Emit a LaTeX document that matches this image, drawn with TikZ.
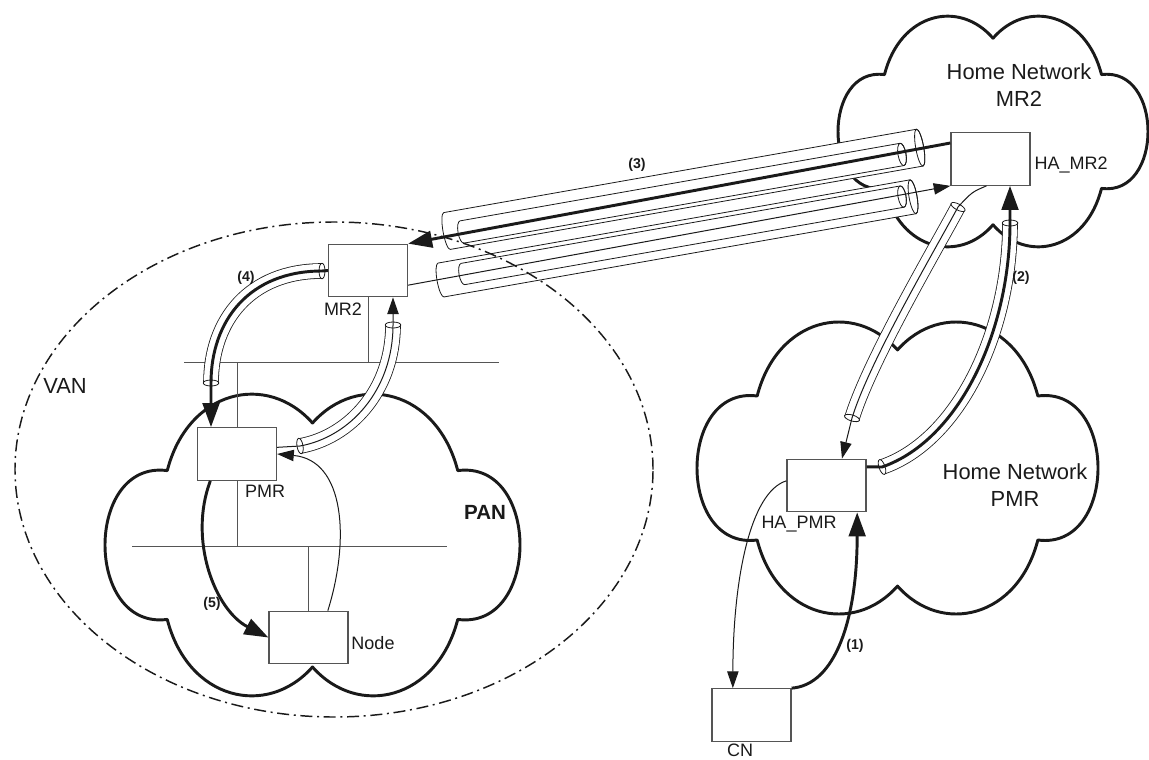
\documentclass[tikz,border=0pt]{standalone}
\usepackage{fontspec}
\setmainfont{Liberation Sans}
\usetikzlibrary{arrows.meta}
\definecolor{ink}{HTML}{1A1A1A}
\definecolor{wire}{HTML}{555555}

\begin{document}
\begin{tikzpicture}[
  x=0.75pt, y=0.75pt,
  every node/.append style={text=ink},
  box/.style={draw=wire, line width=0.9pt, fill=white, minimum width=59.3pt, minimum height=39.4pt, inner sep=0pt},
  lbl/.style={font=\fontsize{13.5}{16}\selectfont, inner sep=0pt},
  tag/.style={font=\fontsize{10.6}{12}\selectfont\bfseries, inner sep=0pt},
  net/.style={font=\fontsize{16.4}{19.7}\selectfont, align=center, inner sep=0pt},
  bus/.style={draw=wire, line width=0.75pt},
  flow/.style={draw=ink, line width=2.2pt, -{Triangle[length=18pt, width=12.5pt]}},
  sig/.style={draw=ink, line width=0.75pt, -{Triangle[length=12.5pt, width=8.5pt]}},
  cloudline/.style={draw=ink, line width=2.2pt, line join=round},
  tube/.style={draw=ink, line width=0.6pt, double=white, double distance=10.5pt},
  tubeend/.style={draw=ink, line width=0.6pt, fill=white},
  vanline/.style={draw=ink, line width=1.1pt, dash pattern=on 9pt off 3.5pt on 1.5pt off 3.5pt},
  pics/cloud/.style={code={
    \draw[cloudline] (0,0.787) .. controls (0.22,1.12) and (0.60,1.0) .. (0.70,0.48)
      .. controls (1.1,0.55) and (1.1,-0.55) .. (0.70,-0.48)
      .. controls (0.60,-1.0) and (0.22,-1.12) .. (0,-0.787)
      .. controls (-0.22,-1.12) and (-0.60,-1.0) .. (-0.70,-0.48)
      .. controls (-1.1,-0.55) and (-1.1,0.55) .. (-0.70,0.48)
      .. controls (-0.60,1.0) and (-0.22,1.12) .. (0,0.787) -- cycle;
  }},
  pics/tunnel/.style 2 args={code={
    \filldraw[draw=ink, line width=0.6pt, fill=white]
      (0,-#2) -- (#1,-#2) arc[start angle=-90, end angle=90, x radius=4, y radius=#2]
      -- (0,#2) arc[start angle=90, end angle=270, x radius=4, y radius=#2] -- cycle;
    \draw[draw=ink, line width=0.6pt] (#1,0) ellipse[x radius=4, y radius=#2];
  }},
]
\useasboundingbox (0,0) rectangle (1149,-760);

% networks
\pic[xscale=207.5, yscale=155] at (312.5,-545) {cloud};
\pic[xscale=200.5, yscale=150] at (897.5,-468) {cloud};
\pic[xscale=155, yscale=118.5] at (993,-131.5) {cloud};

% routers and hosts
\node[box] (mr2) at (368,-270.5) {};
\node[box] (hamr2) at (990.5,-159) {};
\node[box] (pmr) at (237,-454) {};
\node[box] (host) at (308.5,-637.5) {};
\node[box] (hapmr) at (826.5,-485.5) {};
\node[box] (cn) at (751.5,-715) {};

\node[lbl] (mr2l) at (343,-309) {MR2};
\node[lbl] (hamr2l) at (1071,-165) {HA\_MR2};
\node[lbl] (pmrl) at (265,-491) {PMR};
\node[lbl] (hostl) at (373,-643) {Node};
\node[lbl] (hapmrl) at (799,-524) {HA\_PMR};
\node[lbl] (cnl) at (740,-750) {CN};

\node[net] (hnmr2) at (1019,-85) {Home Network\\MR2};
\node[net] (hnpmr) at (1015,-485) {Home Network\\PMR};
\node[net, font=\fontsize{15.4}{18}\selectfont\bfseries] (pan) at (485,-512) {PAN};
\node[net] (van) at (65,-386) {VAN};

% links
\coordinate (vanl) at (184,-362);
\coordinate (vanr) at (499,-362);
\coordinate (panl) at (132,-546);
\coordinate (panr) at (447,-546);
\draw[bus] (vanl) -- (vanr);
\draw[bus] (panl) -- (panr);
\draw[bus] (mr2.south) -- (mr2.south |- vanl);
\draw[bus] (pmr.north) -- (pmr.north |- vanl);
\draw[bus] (pmr.south) -- (pmr.south |- panl);
\draw[bus] (host.north) -- (host.north |- panl);

% tunnels MR2 <-> HA_MR2
\pic[rotate=10] at (447,-231) {tunnel={480}{18.7}};
\pic[rotate=10] at (462,-232) {tunnel={446.8}{11.3}};
\pic[rotate=10] at (441,-280) {tunnel={479.3}{17.2}};
\pic[rotate=10] at (463,-274) {tunnel={445.8}{10.8}};

% small tunnels
\coordinate (t1a) at (322,-271);
\coordinate (t1b) at (211,-383);
\coordinate (t2a) at (300,-446);
\coordinate (t2b) at (393,-325);
\coordinate (t4a) at (958,-207);
\coordinate (t4b) at (852,-418);
\coordinate (t5a) at (882,-467);
\coordinate (t5b) at (1010,-223);
\draw[tube] (t1a) .. controls (250,-271) and (211,-320) .. (t1b);
\draw[tube] (t2a) .. controls (350,-437) and (393,-390) .. (t2b);
\draw[tube] (t4a) .. controls (935,-250) and (870,-360) .. (t4b);
\draw[tube] (t5a) .. controls (960,-440) and (1010,-330) .. (t5b);
\draw[tubeend, shift={(t1a)}] (0,0) ellipse[x radius=3, y radius=7.8];
\draw[tubeend, shift={(t1b)}, rotate=90] (0,0) ellipse[x radius=3, y radius=7.8];
\draw[tubeend, shift={(t2a)}, rotate=10] (0,0) ellipse[x radius=3, y radius=7.8];
\draw[tubeend, shift={(t2b)}, rotate=90] (0,0) ellipse[x radius=3, y radius=7.8];
\draw[tubeend, shift={(t4a)}, rotate=62] (0,0) ellipse[x radius=3, y radius=7.8];
\draw[tubeend, shift={(t4b)}, rotate=73] (0,0) ellipse[x radius=3, y radius=7.8];
\draw[tubeend, shift={(t5a)}, rotate=19] (0,0) ellipse[x radius=3, y radius=7.8];
\draw[tubeend, shift={(t5b)}, rotate=90] (0,0) ellipse[x radius=3, y radius=7.8];

\draw[vanline] (334,-469.5) ellipse[x radius=319, y radius=247.5];

% message flow
\draw[flow] (cn.north east) .. controls (835,-685) and ([xshift=23pt]hapmr.south |- 0,-620) .. ([xshift=23pt]hapmr.south);
\draw[sig] ([yshift=3.5pt]hapmr.west) .. controls (750,-492) and (733,-580) .. ([xshift=-14pt]cn.north);
\draw[flow] ([yshift=14pt]hapmr.east) -- (t5a) .. controls (960,-440) and (1010,-330) .. (t5b) -- (hamr2.south -| t5b);
\draw[sig] ([xshift=-3pt]hamr2.south) .. controls (972,-192) .. (t4a) .. controls (935,-250) and (870,-360) .. (t4b) -- ([xshift=11.6pt]hapmr.north);
\draw[flow] ([yshift=12pt]hamr2.west) -- (mr2.north east);
\draw[sig] ([yshift=-11pt]mr2.east) -- (hamr2.south west);
\draw[flow] (mr2.west) -- (t1a) .. controls (250,-271) and (211,-320) .. (t1b) -- (pmr.north -| t1b);
\draw[sig] ([yshift=5pt]pmr.east) -- (t2a) .. controls (350,-437) and (393,-390) .. (t2b) -- (mr2.south -| t2b);
\draw[flow] ([xshift=-20pt]pmr.south) .. controls (188,-540) and (215,-610) .. (host.west);
\draw[sig] ([xshift=14.5pt]host.north) .. controls (350,-540) and (345,-460) .. (pmr.east);

\node[tag] (l1) at (855,-646) {(1)};
\node[tag] (l2) at (1021,-278) {(2)};
\node[tag] (l3) at (637,-165) {(3)};
\node[tag] (l4) at (246,-278) {(4)};
\node[tag] (l5) at (212,-604) {(5)};
\end{tikzpicture}
\end{document}
